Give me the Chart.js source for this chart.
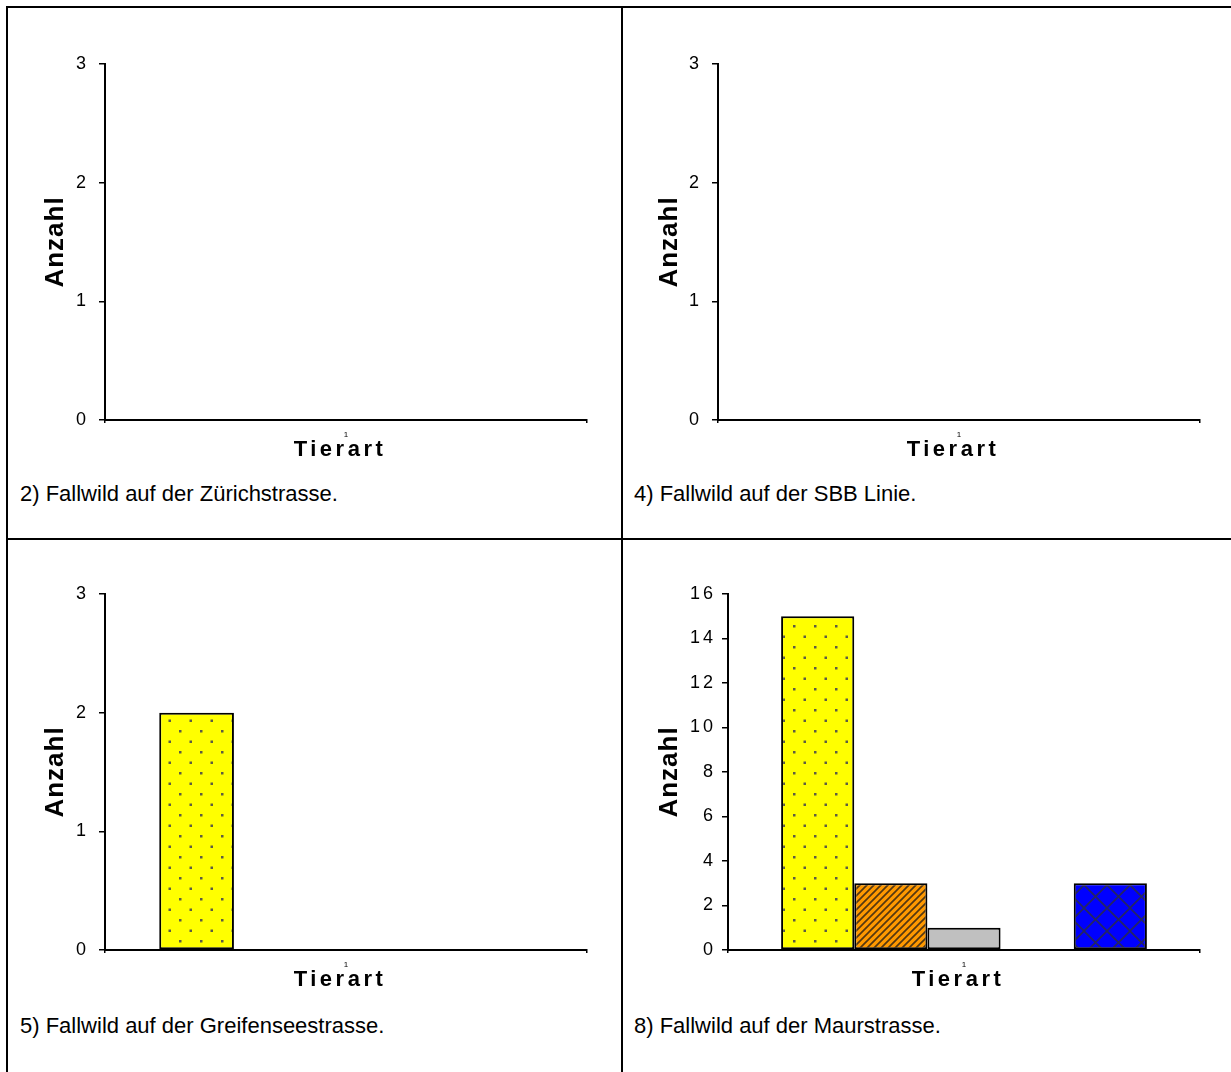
<!DOCTYPE html>
<html lang="de">
<head>
<meta charset="utf-8">
<script src="https://cdn.jsdelivr.net/npm/chart.js@4.4.1/dist/chart.umd.min.js"></script>
<style>
    html, body { margin: 0; padding: 0; background: #fff; width: 1231px; height: 1072px; overflow: hidden; position: relative; font-family: "Liberation Sans", Arial, sans-serif; }
    .linie { position: absolute; background: #000; }
    canvas { position: absolute; }
    .text { position: absolute; font-size: 22px; line-height: 26px; white-space: nowrap; color: #000; }
</style>
</head>
<body>
<div class="linie" style="left:6px;top:6px;width:1225px;height:2px"></div>
<div class="linie" style="left:6px;top:6px;width:2px;height:1066px"></div>
<div class="linie" style="left:621px;top:6px;width:2px;height:1066px"></div>
<div class="linie" style="left:6px;top:538px;width:1225px;height:2px"></div>

<canvas id="zuerich" width="608" height="465" style="left:10px;top:10px"></canvas>
<canvas id="sbb" width="607" height="465" style="left:624px;top:10px"></canvas>
<canvas id="greifensee" width="608" height="465" style="left:10px;top:540px"></canvas>
<canvas id="maur" width="607" height="465" style="left:624px;top:540px"></canvas>

<div class="text" style="left:20px;top:481px">2) Fallwild auf der Zürichstrasse.</div>
<div class="text" style="left:634px;top:481px">4) Fallwild auf der SBB Linie.</div>
<div class="text" style="left:20px;top:1013px">5) Fallwild auf der Greifenseestrasse.</div>
<div class="text" style="left:634px;top:1013px">8) Fallwild auf der Maurstrasse.</div>

<script>
// Daten
const kategorien = ["1"];
const reihen = ["Reihe1", "Reihe2", "Reihe3", "Reihe4", "Reihe5"];
const zuerichstrasse = [0, 0, 0, 0, 0];
const sbbLinie = [0, 0, 0, 0, 0];
const greifenseestrasse = [2, 0, 0, 0, 0];
const maurstrasse = [15, 3, 1, 0, 3];
const schrift = "'Liberation Sans', Arial, sans-serif";

// Füllmuster wie in Excel
function muster(grund, w, h, zeichnen) {
    const c = document.createElement("canvas");
    c.width = w;
    c.height = h;
    const g = c.getContext("2d");
    g.fillStyle = grund;
    g.fillRect(0, 0, w, h);
    if (zeichnen) zeichnen(g, w, h);
    return g.createPattern(c, "repeat");
}

const punkte = muster("#ffff00", 21, 21, (g) => {
    g.fillStyle = "#5c5c44";
    g.fillRect(1, 1, 2.5, 2.5);
    g.fillRect(11.5, 11.5, 2.5, 2.5);
});
const streifen = muster("#ff9900", 7, 7, (g, w, h) => {
    g.strokeStyle = "#553811";
    g.lineWidth = 1.7;
    g.beginPath();
    g.moveTo(-1, h + 1); g.lineTo(w + 1, -1);
    g.moveTo(-1, 1); g.lineTo(1, -1);
    g.moveTo(w - 1, h + 1); g.lineTo(w + 1, h - 1);
    g.stroke();
});
const gitter = muster("#0000ff", 23, 23, (g, w, h) => {
    g.strokeStyle = "#262660";
    g.lineWidth = 1.6;
    g.beginPath();
    g.moveTo(0, 0); g.lineTo(w, h);
    g.moveTo(0, h); g.lineTo(w, 0);
    g.stroke();
});
const fuellungen = [punkte, streifen, "#c0c0c0", "#ffffff", gitter];

// Excel-Schrift wirkt breit gezogen: Sperrung je Achse
const sperrung = {
    id: "sperrung",
    beforeDraw(chart, args, opts) {
        Object.values(chart.scales).forEach((s) => {
            if (s.gesperrt) return;
            const a = opts[s.id] || {};
            const titel = s.drawTitle;
            const labels = s.drawLabels;
            s.drawTitle = function (...p) {
                const ctx = this.ctx;
                ctx.save();
                ctx.letterSpacing = a.titel || "0px";
                ctx.translate(a.dx || 0, 0);
                titel.apply(this, p);
                ctx.restore();
            };
            s.drawLabels = function (...p) {
                const ctx = this.ctx;
                ctx.save();
                ctx.letterSpacing = a.ticks || "0px";
                labels.apply(this, p);
                ctx.restore();
            };
            s.gesperrt = true;
        });
    }
};

function diagramm(id, werte, yMax, schritt, yBreite, abstand) {
    new Chart(document.getElementById(id), {
        type: "bar",
        data: {
            labels: kategorien,
            datasets: reihen.map((name, i) => ({
                label: name,
                data: [werte[i]],
                backgroundColor: fuellungen[i],
                borderColor: "#000",
                borderWidth: (ctx) => (ctx.raw ? 2 : 0),
                borderSkipped: false,
            })),
        },
        options: {
            responsive: false,
            animation: false,
            layout: { padding: { top: 54, right: 31, left: 0, bottom: 0 } },
            plugins: {
                legend: { display: false },
                tooltip: { enabled: false },
                sperrung: { x: { titel: "3.5px", dx: -6 }, y: { titel: "1px", ticks: "3px" } },
            },
            datasets: { bar: { barPercentage: 1, categoryPercentage: 0.775 } },
            scales: {
                x: {
                    grid: { drawOnChartArea: false, drawTicks: true, tickLength: 3, color: "#000", lineWidth: 1.5 },
                    border: { color: "#000", width: 2 },
                    ticks: { color: "#000", font: { size: 8, family: schrift }, padding: 7, maxRotation: 0 },
                    title: {
                        display: true,
                        text: "Tierart",
                        color: "#000",
                        font: { size: 22, weight: "bold", family: schrift },
                        padding: { top: 0, bottom: 12 },
                    },
                    afterFit: (s) => { s.height = 55; },
                },
                y: {
                    min: 0,
                    max: yMax,
                    ticks: { stepSize: schritt, color: "#000", font: { size: 18, family: schrift }, padding: abstand },
                    grid: { drawOnChartArea: false, drawTicks: true, tickLength: 6, color: "#000", lineWidth: 1.5 },
                    border: { color: "#000", width: 2 },
                    title: {
                        display: true,
                        text: "Anzahl",
                        color: "#000",
                        font: { size: 26, weight: "bold", family: schrift },
                        padding: { top: 30, bottom: 0 },
                    },
                    afterFit: (s) => { s.width = yBreite; },
                },
            },
        },
        plugins: [sperrung],
    });
}

diagramm("zuerich", zuerichstrasse, 3, 1, 95, 10);
diagramm("sbb", sbbLinie, 3, 1, 94, 10);
diagramm("greifensee", greifenseestrasse, 3, 1, 95, 10);
diagramm("maur", maurstrasse, 16, 2, 104, 6);
</script>
</body>
</html>
